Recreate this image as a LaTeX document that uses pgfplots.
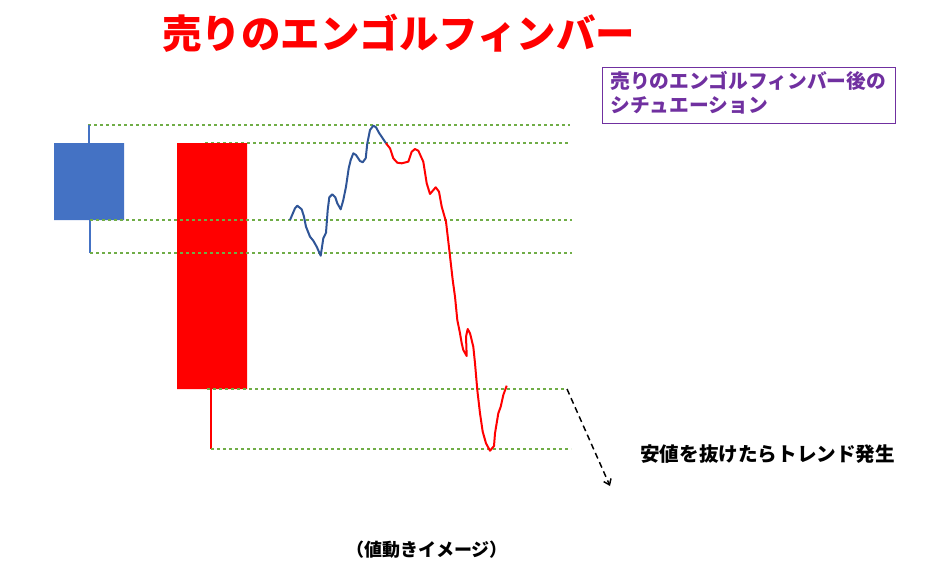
\documentclass[border=0pt]{standalone}
\usepackage{pgfplots}
\pgfplotsset{compat=1.18}
\usepackage{fontspec}
\usetikzlibrary{arrows.meta}
\newfontfamily\jp{Noto Sans CJK JP}
\definecolor{cblue}{HTML}{4472C4}
\definecolor{cline}{HTML}{2F5597}
\definecolor{cgreen}{HTML}{70AD47}
\definecolor{cpurple}{HTML}{7030A0}
\begin{document}
\begin{tikzpicture}
\begin{axis}[
  width=702.75pt, height=433.5pt, scale only axis,
  xmin=0, xmax=937, ymin=0, ymax=578, y dir=reverse,
  hide axis, clip=false,
]
\path (rel axis cs:0,0) rectangle (rel axis cs:1,1);
% guide lines
\addplot[cgreen, line width=0.8pt, dash pattern=on 2.6pt off 1.9pt] coordinates {(88,125) (570,125)};
\addplot[cgreen, line width=0.8pt, dash pattern=on 2.6pt off 1.9pt] coordinates {(205,143) (570,143)};
% candles
\addplot[cblue, line width=1.5pt] coordinates {(89,125) (89,143)};
\addplot[cblue, line width=1.5pt] coordinates {(90,220) (90,253)};
\addplot[fill=cblue, draw=none] coordinates {(54,143) (124,143) (124,220) (54,220) (54,143)};
\addplot[red, line width=1.5pt] coordinates {(211,389) (211,449)};
\addplot[fill=red, draw=none] coordinates {(177,143) (247,143) (247,389) (177,389) (177,143)};
\addplot[cgreen, line width=0.8pt, dash pattern=on 2.6pt off 1.9pt] coordinates {(90,220) (572,220)};
\addplot[cgreen, line width=0.8pt, dash pattern=on 2.6pt off 1.9pt] coordinates {(90,253) (572,253)};
\addplot[cgreen, line width=0.8pt, dash pattern=on 2.6pt off 1.9pt] coordinates {(207,389) (567,389)};
\addplot[cgreen, line width=0.8pt, dash pattern=on 2.6pt off 1.9pt] coordinates {(211,449) (571,449)};
% price path (blue part)
\addplot[cline, line width=1.5pt, line join=round] coordinates {
(290,220) (295,208.3) (297.3,205.7) (301.7,209.3) (304,216.7) (306,226.7)
(310,236.7) (313.3,240.7) (316.7,246.7) (320.7,255.7) (323.3,238.3) (326,232.7)
(327.7,210) (329.3,197.3) (332.3,194.3) (335.3,197.3) (337.3,203.3) (340.7,209.3)
(343.3,200) (346,186.7) (348.7,168.3) (350.7,160) (353.3,153.3) (356,155)
(360,161) (362.7,162.3) (365.7,158.3) (367.3,143.3) (370,130) (373.3,125.7)
(376,127.3) (379.3,133.3) (382.7,138.3) (386,143.3)
};
% price path (red part)
\addplot[red, line width=1.5pt, line join=round] coordinates {
(386,143.3) (390,148.3) (393.3,158.3) (397.3,162.7) (401.7,163.3) (408.3,161.7)
(411.7,151.7) (415,149) (418.3,150.7) (423.3,161.7) (426.7,183.3) (430,194)
(435.7,187.3) (439,191.7) (441.7,206.7) (446,221.7) (449.3,250) (452.7,280)
(455,296.7) (457.3,320) (460,333.3) (461.7,343.3) (463.3,350) (466.7,356)
(466,336.7) (467.7,329) (470,333.3) (473.3,346.7) (475,363.3) (477.3,390)
(480,413.3) (482.7,431.7) (486,443.3) (490,450.7) (494,446) (495,433.3)
(498.3,413.3) (500.7,406.7) (503.3,395) (506.7,385.7)
};
% arrow
\addplot[black, line width=1.1pt, dash pattern=on 4.5pt off 3pt, -{Straight Barb[length=4pt,width=6pt]}] coordinates {(567,389) (610,486)};
% texts
\node[anchor=west, text=red, font=\jp\bfseries\fontsize{29.6}{34}\selectfont, inner sep=0pt] at (axis cs:162,33) {売りのエンゴルフィンバー};
\node[anchor=north west, draw=cpurple, line width=0.9pt, minimum width=219.75pt, minimum height=42pt, inner sep=0pt] at (axis cs:602,67) {};
\node[anchor=west, text=cpurple, font=\jp\bfseries\fontsize{14.8}{18}\selectfont, inner sep=0pt] at (axis cs:610,81) {売りのエンゴルフィンバー後の};
\node[anchor=west, text=cpurple, font=\jp\bfseries\fontsize{14.8}{18}\selectfont, inner sep=0pt] at (axis cs:610,105) {シチュエーション};
\node[anchor=west, text=black, font=\jp\bfseries\fontsize{14.7}{18}\selectfont, inner sep=0pt] at (axis cs:640,454) {安値を抜けたらトレンド発生};
\node[anchor=center, text=black, font=\jp\bfseries\fontsize{13.5}{16}\selectfont, inner sep=0pt] at (axis cs:427,550) {（値動きイメージ）};
\end{axis}
\end{tikzpicture}
\end{document}
